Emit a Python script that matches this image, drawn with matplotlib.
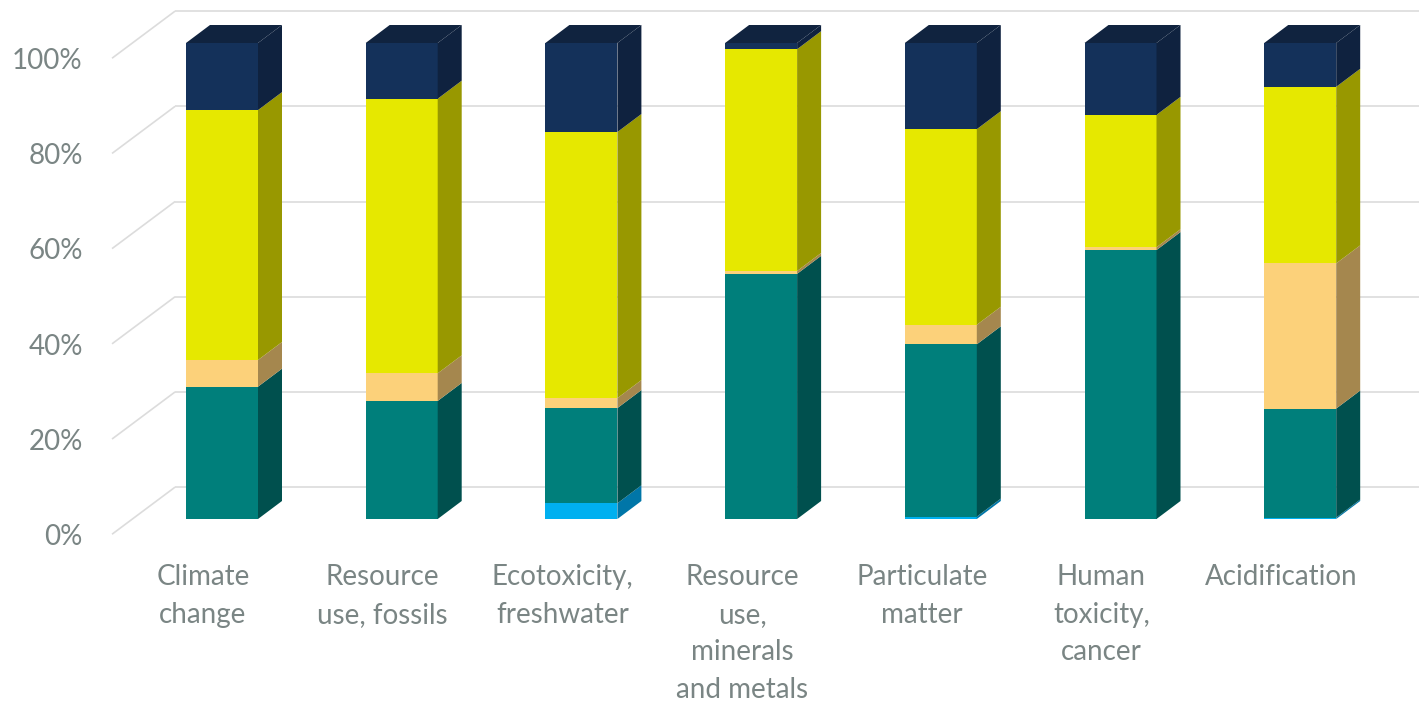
import matplotlib
matplotlib.use("Agg")
import matplotlib.pyplot as plt
from matplotlib.patches import Polygon
import numpy as np

categories = ["Climate\nchange", "Resource\nuse, fossils", "Ecotoxicity,\nfreshwater",
              "Resource\nuse,\nminerals\nand metals", "Particulate\nmatter",
              "Human\ntoxicity,\ncancer", "Acidification"]
s_lightblue = [0.0, 0.0, 3.3, 0.0, 0.5, 0.0, 0.3]
s_teal      = [27.8, 24.8, 20.0, 51.5, 36.2, 56.5, 22.9]
s_orange    = [5.6, 5.8, 2.1, 0.6, 4.1, 0.6, 30.5]
s_yellow    = [52.5, 57.7, 55.9, 46.6, 41.1, 27.8, 37.1]
s_navy      = [14.1, 11.7, 18.7, 1.3, 18.1, 15.1, 9.2]
yticks = [0, 20, 40, 60, 80, 100]
ytick_labels = ["0%", "20%", "40%", "60%", "80%", "100%"]

series = [s_lightblue, s_teal, s_orange, s_yellow, s_navy]
front_colors = ["#00b0f0", "#007f7b", "#fcd17a", "#e6e800", "#14315a"]
side_colors = ["#0076a8", "#00504e", "#a5874e", "#989800", "#0f223f"]
top_color = "#10233f"
text_color = "#7a8584"
grid_color = "#dcdcdc"

W, H = 1419, 706
fig = plt.figure(figsize=(W / 100, H / 100), dpi=100)
ax = fig.add_axes([0, 0, 1, 1])
# pixel mapping: x_px = 222 + 179.7*i ; y_from_bottom = 187 + 4.76*v
ax.set_xlim(-222 / 179.7, (W - 222) / 179.7)
ax.set_ylim(-187 / 4.76, (H - 187) / 4.76)
ax.axis("off")

bar_w = 72 / 179.7
ddx = 24 / 179.7     # bar depth in x
ddy = 18 / 4.76      # bar depth in y
wall_x0 = -0.612     # left-front of side wall
wall_dx = 0.351
wall_front = -3.2
wall_back = 6.7
xmax = ax.get_xlim()[1]

# gridlines (side wall diagonal + back wall horizontal)
for t, lab in zip(yticks, ytick_labels):
    ax.plot([wall_x0, wall_x0 + wall_dx], [t + wall_front, t + wall_back],
            color=grid_color, lw=1.2, zorder=1, solid_capstyle="butt")
    ax.plot([wall_x0 + wall_dx, xmax], [t + wall_back, t + wall_back],
            color=grid_color, lw=1.2, zorder=1, solid_capstyle="butt")
    ax.text(-0.775, t + wall_front - 0.6, lab, ha="right", va="center",
            fontsize=20, color=text_color, family="Lato")

x = np.arange(len(categories))
bottom = np.zeros(len(categories))
for k, s in enumerate(series):
    vals = np.array(s, dtype=float)
    ax.bar(x, vals, bottom=bottom, width=bar_w, color=front_colors[k], zorder=3,
           linewidth=0)
    for i in range(len(categories)):
        if vals[i] <= 0:
            continue
        x1 = x[i] + bar_w / 2
        y0, y1 = bottom[i], bottom[i] + vals[i]
        ax.add_patch(Polygon([(x1, y0), (x1 + ddx, y0 + ddy), (x1 + ddx, y1 + ddy), (x1, y1)],
                             closed=True, facecolor=side_colors[k], edgecolor="none", zorder=3))
    bottom = bottom + vals

# top faces
for i in range(len(categories)):
    xl = x[i] - bar_w / 2
    xr = x[i] + bar_w / 2
    yt = bottom[i]
    ax.add_patch(Polygon([(xl, yt), (xl + ddx, yt + ddy), (xr + ddx, yt + ddy), (xr, yt)],
                         closed=True, facecolor=top_color, edgecolor="none", zorder=3))

for i, c in enumerate(categories):
    ax.text(x[i] - 0.106, -9.5, c, ha="center", va="top", fontsize=20, color=text_color,
            family="Lato", linespacing=1.55)

fig.savefig("out.png", dpi=100)
